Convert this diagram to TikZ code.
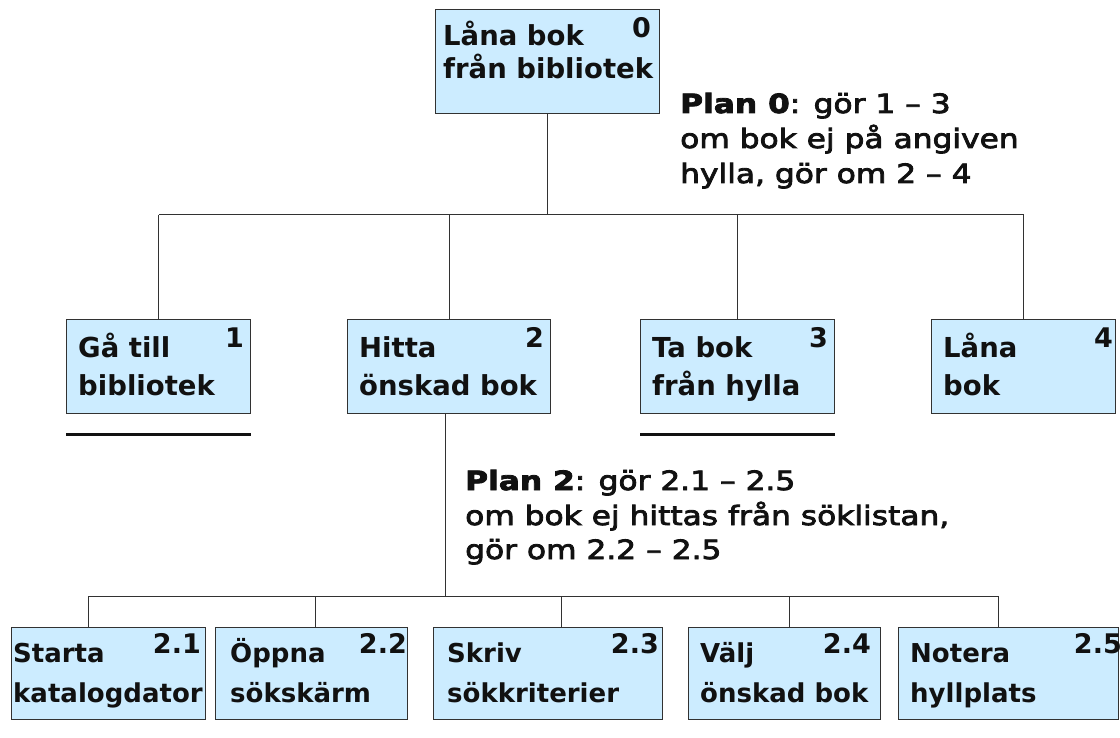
\documentclass[tikz,border=0pt]{standalone}
\usepackage{fontspec}
\setmainfont{DejaVu Sans}
\newfontfamily\planfont[FakeBold=3,FakeStretch=1.18]{DejaVu Sans}
\usetikzlibrary{calc}
\definecolor{boxfill}{RGB}{204,236,255}
\definecolor{ink}{RGB}{17,17,17}
\definecolor{edge}{RGB}{50,50,50}
\tikzset{
  taskbox/.style={draw=edge, fill=boxfill, line width=1pt, inner sep=0pt, anchor=north west, rectangle},
  tline/.style={inner sep=0pt, anchor=base west, text=ink, font=\bfseries\fontsize{27.5}{32}\selectfont},
  sline/.style={inner sep=0pt, anchor=base west, text=ink, font=\bfseries\fontsize{26}{32}\selectfont},
  tnum/.style={inner sep=0pt, anchor=base east, text=ink, font=\bfseries\fontsize{27}{30}\selectfont},
  plan/.style={inner sep=0pt, anchor=base west, text=ink, font=\planfont\fontsize{26.5}{30}\selectfont},
  conn/.style={draw=edge, line width=1pt},
  uline/.style={draw=ink, line width=3pt}
}
\begin{document}
\begin{tikzpicture}[x=1pt,y=-1pt]
\useasboundingbox[fill=white] (0,0) rectangle (1120,738);
% boxes
\node[taskbox, minimum width=224, minimum height=104] (n0) at (435,9) {};
\node[taskbox, minimum width=184, minimum height=94] (n1) at (66,319) {};
\node[taskbox, minimum width=203, minimum height=94] (n2) at (347,319) {};
\node[taskbox, minimum width=194, minimum height=94] (n3) at (640,319) {};
\node[taskbox, minimum width=184, minimum height=94] (n4) at (931,319) {};
\node[taskbox, minimum width=194, minimum height=92] (n21) at (11,627) {};
\node[taskbox, minimum width=192, minimum height=92] (n22) at (215,627) {};
\node[taskbox, minimum width=229, minimum height=92] (n23) at (433,627) {};
\node[taskbox, minimum width=192, minimum height=92] (n24) at (688,627) {};
\node[taskbox, minimum width=220, minimum height=92] (n25) at (898,627) {};
% texts
\node[tline] (t0a) at ($(n0.north west)+(8,37)$) {Låna bok};
\node[tline] (t0b) at ($(n0.north west)+(8,70)$) {från bibliotek};
\node[tnum] (k0) at ($(n0.north east)+(-9,29)$) {0};
\node[tline] (t1a) at ($(n1.north west)+(12,38)$) {Gå till};
\node[tline] (t1b) at ($(n1.north west)+(12,76)$) {bibliotek};
\node[tnum] (k1) at ($(n1.north east)+(-7,28)$) {1};
\node[tline] (t2a) at ($(n2.north west)+(12,38)$) {Hitta};
\node[tline] (t2b) at ($(n2.north west)+(12,76)$) {önskad bok};
\node[tnum] (k2) at ($(n2.north east)+(-7,28)$) {2};
\node[tline] (t3a) at ($(n3.north west)+(12,38)$) {Ta bok};
\node[tline] (t3b) at ($(n3.north west)+(12,76)$) {från hylla};
\node[tnum] (k3) at ($(n3.north east)+(-7,28)$) {3};
\node[tline] (t4a) at ($(n4.north west)+(12,38)$) {Låna};
\node[tline] (t4b) at ($(n4.north west)+(12,76)$) {bok};
\node[tnum] (k4) at ($(n4.north east)+(-3,28)$) {4};
\node[sline] (t21a) at ($(n21.north west)+(2,35)$) {Starta};
\node[sline] (t21b) at ($(n21.north west)+(2,75)$) {katalogdator};
\node[tnum] (k21) at ($(n21.north east)+(-5,26)$) {2.1};
\node[sline] (t22a) at ($(n22.north west)+(15,35)$) {Öppna};
\node[sline] (t22b) at ($(n22.north west)+(15,75)$) {sökskärm};
\node[tnum] (k22) at ($(n22.north east)+(-1,26)$) {2.2};
\node[sline] (t23a) at ($(n23.north west)+(14,35)$) {Skriv};
\node[sline] (t23b) at ($(n23.north west)+(14,75)$) {sökkriterier};
\node[tnum] (k23) at ($(n23.north east)+(-4,26)$) {2.3};
\node[sline] (t24a) at ($(n24.north west)+(12,35)$) {Välj};
\node[sline] (t24b) at ($(n24.north west)+(12,75)$) {önskad bok};
\node[tnum] (k24) at ($(n24.north east)+(-10,26)$) {2.4};
\node[sline] (t25a) at ($(n25.north west)+(12,35)$) {Notera};
\node[sline] (t25b) at ($(n25.north west)+(12,75)$) {hyllplats};
\node[tnum] (k25) at ($(n25.north east)+(3,26)$) {2.5};
% plan texts
\node[plan] (p0a) at (680,113) {\textbf{Plan 0}: gör 1 – 3};
\node[plan] (p0b) at (680,148) {om bok ej på angiven};
\node[plan] (p0c) at (680,183) {hylla, gör om 2 – 4};
\node[plan] (p2a) at (465,490) {\textbf{Plan 2}: gör 2.1 – 2.5};
\node[plan] (p2b) at (465,525) {om bok ej hittas från söklistan,};
\node[plan] (p2c) at (465,559) {gör om 2.2 – 2.5};
% connectors level 1
\coordinate (bus0) at (547,215);
\draw[conn] (n0.south) -- (n0.south |- bus0);
\draw[conn] (n1.north |- bus0) -- (n4.north |- bus0);
\foreach \n in {n1,n2,n3,n4} \draw[conn] (\n.north) -- (\n.north |- bus0);
% connectors level 2
\coordinate (bus2) at (445,596);
\coordinate (d21) at ($(n21.north)+(-20,0)$);
\coordinate (d22) at ($(n22.north)+(4,0)$);
\coordinate (d23) at ($(n23.north)+(13,0)$);
\coordinate (d24) at ($(n24.north)+(5,0)$);
\coordinate (d25) at ($(n25.north)+(-10,0)$);
\draw[conn] (n2.south -| bus2) -- (bus2);
\draw[conn] (d21 |- bus2) -- (d25 |- bus2);
\foreach \d in {d21,d22,d23,d24,d25} \draw[conn] (\d) -- (\d |- bus2);
% underlines
\draw[uline] ($(n1.south west)+(0,20)$) -- ($(n1.south east)+(0,20)$);
\draw[uline] ($(n3.south west)+(0,20)$) -- ($(n3.south east)+(0,20)$);
\end{tikzpicture}
\end{document}
